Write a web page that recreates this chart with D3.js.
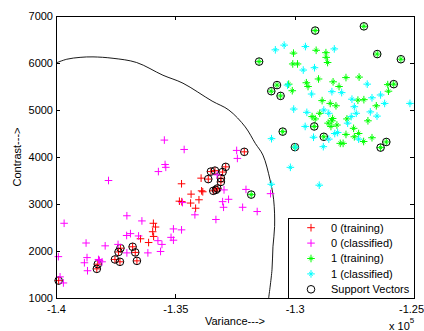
<!DOCTYPE html>
<html>
<head>
<meta charset="utf-8">
<script src="https://cdn.jsdelivr.net/npm/d3@7"></script>
<style>
  body { margin: 0; background: #fff; }
  svg text { font-family: "Liberation Sans", Arial, sans-serif; font-size: 11px; fill: #000; }
</style>
</head>
<body>
<div id="chart"></div>
<script>
// variance is in units of 1e5 (axis shows "x 10^5"), contrast raw

// 0 (training) - red +
const red0X = [-1.3592, -1.3583, -1.3595, -1.3591, -1.3646, -1.3612, -1.3474, -1.3392, -1.3390, -1.3385,
  -1.3434, -1.3401, -1.3483, -1.3473, -1.3436, -1.3415];
const red0Y = [2590, 2510, 2410, 2310, 2260, 2180, 3430, 3550, 3280, 3260,
  3210, 3090, 3060, 3050, 3020, 2910];

// support vectors from class 0 (also training points)
const sv0X = [-1.3989, -1.3825, -1.3829, -1.3753, -1.3732, -1.3738, -1.3730, -1.3679, -1.3668, -1.3661,
  -1.3211, -1.3289, -1.3302, -1.3334, -1.3351, -1.3362, -1.3309, -1.3309, -1.3324, -1.3341, -1.3330];
const sv0Y = [1370, 1720, 1620, 1820, 1770, 1980, 2060, 2090, 1970, 1790,
  4110, 3790, 3680, 3710, 3690, 3530, 3550, 3470, 3330, 3280, 3300];

// 1 (training) - green *
const green1X = [-1.3005, -1.2910, -1.2869, -1.2868, -1.2862, -1.3008, -1.2988, -1.2900, -1.2785, -1.2730,
  -1.2839, -1.2814, -1.2951, -1.2944, -1.3025, -1.3010, -1.2610, -1.2607, -1.2885, -1.2851,
  -1.2827, -1.2735, -1.2710, -1.2658, -1.2927, -1.2914, -1.2895, -1.2841, -1.2844, -1.2860,
  -1.2848, -1.2823, -1.2781, -1.2693, -1.2753, -1.2732, -1.2750, -1.2785, -1.2711, -1.2676,
  -1.2809, -1.2797];
const green1Y = [6210, 6270, 6220, 6120, 6010, 5980, 5980, 5660, 5690, 5700,
  5600, 5500, 5580, 5500, 5550, 5410, 5540, 5400, 5200, 5140,
  5090, 5210, 5220, 5090, 4860, 4810, 4930, 4820, 4770, 4720,
  4650, 4680, 4810, 4770, 4610, 4500, 4430, 4480, 4330, 4410,
  4290, 4290];

// support vectors from class 1
const sv1X = [-1.3182, -1.3050, -1.2914, -1.2710, -1.2654, -1.2555, -1.3149, -1.3074, -1.3098, -1.3059,
  -1.2585, -1.2918, -1.2878, -1.2999, -1.2640, -1.2616];
const sv1Y = [3200, 4540, 6690, 6780, 6190, 6080, 6030, 5530, 5400, 5300,
  5550, 4650, 4430, 4210, 4200, 4320];

// 0 (classified) - magenta +
const mag0X = [-1.3546, -1.3463, -1.3543, -1.3540, -1.3571, -1.3780, -1.3243, -1.3240, -1.3204, -1.3101,
  -1.3277, -1.3302, -1.3298, -1.3218, -1.3157, -1.3330, -1.3418, -1.3470, -1.3508, -1.3474,
  -1.3966, -1.3703, -1.3640, -1.3704, -1.3688, -1.3654, -1.3518, -1.3508, -1.3573, -1.3556,
  -1.3615, -1.3562, -1.3740, -1.3794, -1.3874, -1.3990, -1.3870, -1.3881, -1.3868, -1.3818,
  -1.3807, -1.3703, -1.3983, -1.3969, -1.3325, -1.3296, -1.3822];
const mag0Y = [4360, 4160, 3840, 3780, 3690, 3500, 4140, 3970, 3310, 3220,
  3100, 3050, 2930, 2930, 2840, 2670, 2770, 3030, 2470, 2450,
  2590, 2750, 2640, 2330, 2370, 2320, 2290, 2230, 2220, 2140,
  1960, 1990, 2140, 2110, 2170, 1880, 1860, 1750, 1580, 1800,
  1770, 1960, 1450, 1320, 3620, 3300, 1820];

// 1 (classified) - cyan *
const cyan1X = [-1.3081, -1.3044, -1.2955, -1.2834, -1.2964, -1.2917, -1.3030, -1.2929, -1.2844, -1.2803,
  -1.2696, -1.2760, -1.2676, -1.2640, -1.2623, -1.2517, -1.3004, -1.2949, -1.2878, -1.2857,
  -1.2750, -1.2742, -1.2763, -1.2683, -1.2655, -1.2956, -1.2921, -1.2857, -1.2832, -1.2820,
  -1.2778, -1.2732, -1.3097, -1.2880, -1.2997, -1.3018, -1.3098, -1.2897];
const cyan1Y = [6280, 6380, 6350, 6300, 5850, 5900, 5530, 5340, 5390, 5370,
  5550, 5230, 5260, 5320, 5140, 5140, 5020, 4950, 5000, 4930,
  5070, 4930, 4860, 4960, 4870, 4650, 4420, 4380, 4500, 4520,
  4720, 4380, 4390, 4220, 4210, 3780, 3420, 3400];

// separating boundary
const boundX = [-1.4000, -1.3955, -1.3899, -1.3845, -1.3761, -1.3662, -1.3552, -1.3468, -1.3346, -1.3276,
  -1.3207, -1.3165, -1.3133, -1.3103, -1.3088, -1.3084, -1.3091, -1.3095, -1.3109];
const boundY = [6000, 6080, 6120, 6130, 6100, 6010, 5740, 5570, 5190, 5000,
  4640, 4290, 4040, 3510, 3090, 2520, 2090, 1600, 1000];

const xTicks = [-1.4, -1.35, -1.3, -1.25];
const yTicks = [1000, 2000, 3000, 4000, 5000, 6000, 7000];
const legendLabels = ["0 (training)", "0 (classified)", "1 (training)", "1 (classified)", "Support Vectors"];

const W = 424, H = 331;
const margin = { top: 16, right: 10, bottom: 33, left: 56 };

const svg = d3.select("#chart").append("svg")
  .attr("width", W).attr("height", H);

const x = d3.scaleLinear().domain([-1.4, -1.25]).range([margin.left, W - margin.right]);
const y = d3.scaleLinear().domain([1000, 7000]).range([H - margin.bottom, margin.top]);

const zip = (xs, ys) => xs.map((v, i) => [v, ys[i]]);

const PLUS = r => `M${-r},0H${r}M0,${-r}V${r}`;
const STAR = (r, q) => PLUS(r) + `M${-q},${-q}L${q},${q}M${-q},${q}L${q},${-q}`;

// marker helper: draws a path shape at each point
function marks(g, pts, color, shape) {
  g.selectAll(null).data(pts).join("path")
    .attr("transform", d => `translate(${x(d[0])},${y(d[1])})`)
    .attr("d", shape)
    .attr("stroke", color).attr("stroke-width", 1).attr("fill", "none");
}
function ring(g, pts) {
  g.selectAll(null).data(pts).join("circle")
    .attr("cx", d => x(d[0])).attr("cy", d => y(d[1])).attr("r", 3.8)
    .attr("fill", "none").attr("stroke", "#000").attr("stroke-width", 1);
}

const plot = svg.append("g");

// training points (SVs are training points too)
marks(plot, zip(red0X, red0Y).concat(zip(sv0X, sv0Y)), "#ff0000", PLUS(3.8));
marks(plot, zip(green1X, green1Y).concat(zip(sv1X, sv1Y)), "#00ff00", STAR(3.8, 1.8));
ring(plot, zip(sv0X, sv0Y).concat(zip(sv1X, sv1Y)));

// boundary
plot.append("path")
  .datum(zip(boundX, boundY))
  .attr("d", d3.line().x(d => x(d[0])).y(d => y(d[1])).curve(d3.curveCatmullRom))
  .attr("fill", "none").attr("stroke", "#000").attr("stroke-width", 0.9);

// classified points
marks(plot, zip(mag0X, mag0Y), "#ff00ff", PLUS(3.8));
marks(plot, zip(cyan1X, cyan1Y), "#00ffff", STAR(3.8, 1.8));

// axes box with inward ticks
const x0 = x.range()[0], x1 = x.range()[1], y0 = y.range()[0], y1 = y.range()[1];

const xAxis = svg.append("g").attr("transform", `translate(0,${y0})`)
  .call(d3.axisBottom(x).tickValues(xTicks).tickSize(-4).tickSizeOuter(0).tickPadding(7)
    .tickFormat(d => String(d)));
// keep the last label inside the window
xAxis.selectAll(".tick text").filter(d => d === -1.25).attr("dx", -3);

svg.append("g").attr("transform", `translate(0,${y1})`)
  .call(d3.axisTop(x).tickValues(xTicks).tickSize(-4).tickSizeOuter(0).tickFormat(""));
svg.append("g").attr("transform", `translate(${x0},0)`)
  .call(d3.axisLeft(y).tickValues(yTicks).tickSize(-4).tickSizeOuter(0).tickPadding(3)
    .tickFormat(d => String(d)));
svg.append("g").attr("transform", `translate(${x1},0)`)
  .call(d3.axisRight(y).tickValues(yTicks).tickSize(-4).tickSizeOuter(0).tickFormat(""));

svg.selectAll(".domain, .tick line").attr("stroke", "#000").attr("shape-rendering", "crispEdges");
svg.selectAll(".tick text").style("font-family", "'Liberation Sans', Arial, sans-serif").style("font-size", "11px");

// labels
svg.append("text").attr("x", (x0 + x1) / 2).attr("y", 325).attr("text-anchor", "middle").text("Variance--->");
svg.append("text").attr("transform", `translate(21,${(y0 + y1) / 2}) rotate(-90)`)
  .attr("text-anchor", "middle").text("Contrast--->");
const sci = svg.append("text").attr("x", 389).attr("y", 330);
sci.append("tspan").text("x 10");
sci.append("tspan").attr("dy", -7).style("font-size", "8px").text("5");

// legend
const lg = svg.append("g");
const lgLeft = 288, lgTop = 218;
lg.append("rect").attr("x", lgLeft + 0.5).attr("y", lgTop + 0.5)
  .attr("width", x1 - lgLeft).attr("height", y0 - lgTop)
  .attr("fill", "#fff").attr("stroke", "#000").attr("shape-rendering", "crispEdges");
const rowY = i => 227.7 + i * 15.4;
const lgShapes = [
  { shape: PLUS(3.8), color: "#ff0000" },
  { shape: PLUS(3.8), color: "#ff00ff" },
  { shape: STAR(3.8, 1.8), color: "#00ff00" },
  { shape: STAR(3.8, 1.8), color: "#00ffff" },
  null
];
legendLabels.forEach((lab, i) => {
  const row = lg.append("g").attr("transform", `translate(311,${rowY(i)})`);
  if (lgShapes[i]) {
    row.append("path").attr("d", lgShapes[i].shape).attr("stroke", lgShapes[i].color);
  } else {
    row.append("circle").attr("r", 3.8).attr("stroke", "#000");
  }
  row.selectAll("path, circle").attr("fill", "none").attr("stroke-width", 1);
  lg.append("text").attr("x", 331).attr("y", rowY(i)).attr("dy", "0.35em").text(lab);
});
</script>
</body>
</html>
